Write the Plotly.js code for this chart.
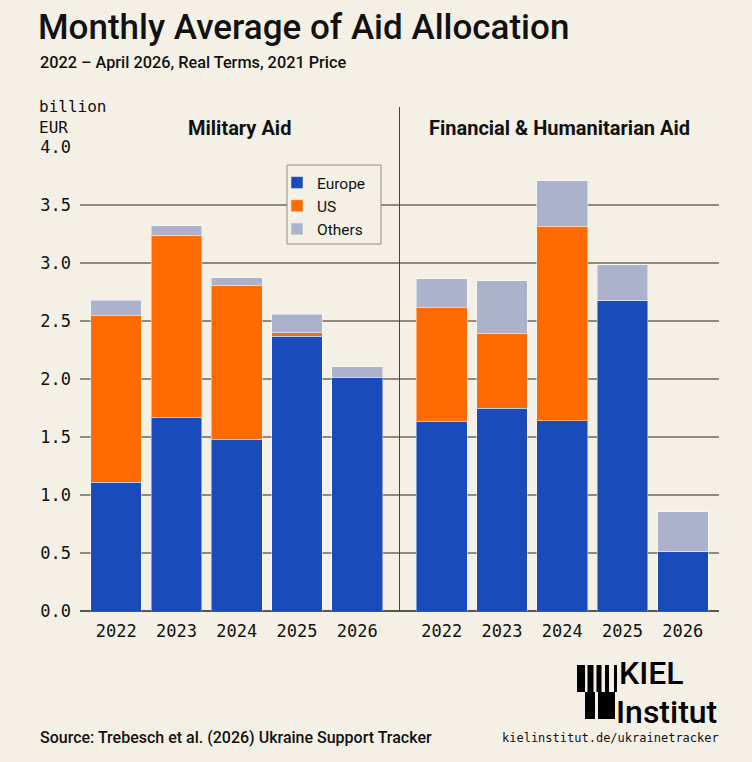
<!DOCTYPE html>
<html>
<head>
<meta charset="utf-8">
<script src="https://cdn.plot.ly/plotly-3.0.1.min.js"></script>
<style>
  html, body { margin: 0; padding: 0; background: #f4f0e6; }
  #chart { width: 752px; height: 762px; }
</style>
</head>
<body>
<div id="chart"></div>
<script>
// ---- Data (billion EUR, monthly average, real terms 2021 prices) ----
const years = ["2022", "2023", "2024", "2025", "2026"];
const panels = ["Military Aid", "Financial & Humanitarian Aid"];

const militaryEurope = [1.11, 1.67, 1.48, 2.37, 2.01];
const militaryUS     = [1.435, 1.57, 1.33, 0.03, 0.0];
const militaryOthers = [0.135, 0.08, 0.065, 0.16, 0.095];

const financialEurope = [1.63, 1.75, 1.64, 2.68, 0.515];
const financialUS     = [0.985, 0.645, 1.675, 0.0, 0.0];
const financialOthers = [0.25, 0.45, 0.395, 0.305, 0.34];

const seriesNames = ["Europe", "US", "Others"];
const seriesColors = ["#1a4bbb", "#ff6b00", "#adb2cc"];

const yTickVals = [0, 0.5, 1, 1.5, 2, 2.5, 3, 3.5, 4];

// ---- Layout helpers ----
const W = 752, H = 762;
const L = 80, R = 719, T = 147, B = 611;
const px = x => (x - L) / (R - L);
const py = y => (B - y) / (B - T);

const panelGap = 1.4;  // slot spacing between the two panels
const xMil = years.map((_, i) => i);
const xFin = years.map((_, i) => years.length - 1 + panelGap + i);
const xAll = xMil.concat(xFin);

const seriesData = [
  militaryEurope.concat(financialEurope),
  militaryUS.concat(financialUS),
  militaryOthers.concat(financialOthers)
];

const traces = seriesNames.map((name, k) => ({
  type: "bar",
  name: name,
  x: xAll,
  y: seriesData[k],
  width: 0.84,
  marker: { color: seriesColors[k], line: { color: "rgba(255,255,255,0.45)", width: 1 } },
  hoverinfo: "name+y"
}));

const mono = "DejaVu Sans Mono, Liberation Mono, monospace";
const sans = "Roboto, Inter, Noto Sans, sans-serif";
const logoFont = "Roboto, sans-serif";

const shapes = [
  // divider
  { type: "line", xref: "paper", yref: "paper", x0: 0.5, x1: 0.5, y0: 0, y1: py(107),
    line: { color: "#444", width: 1 } },
  // legend box
  { type: "rect", xref: "paper", yref: "paper", x0: px(287), x1: px(381), y0: py(244), y1: py(165),
    fillcolor: "#f4f0e6", line: { color: "#8f8b80", width: 1 }, layer: "above" },
  // logo blocks (top row)
  ...[[577, 585], [587.5, 593.5], [596.5, 601.5], [605, 609], [614, 617]].map(([a, b]) => ({
    type: "rect", xref: "paper", yref: "paper", x0: px(a), x1: px(b), y0: py(692), y1: py(665),
    fillcolor: "#000", line: { width: 0 } })),
  // logo blocks (bottom row)
  ...[[585, 595], [598, 615]].map(([a, b]) => ({
    type: "rect", xref: "paper", yref: "paper", x0: px(a), x1: px(b), y0: py(719), y1: py(692),
    fillcolor: "#000", line: { width: 0 } }))
];

const annotations = [
  { text: "2022 – April 2026, Real Terms, 2021 Price", xref: "paper", yref: "paper",
    x: px(38), y: py(62), xanchor: "left", yanchor: "middle", showarrow: false,
    font: { family: sans, size: 16.3, color: "#111", weight: 500 } },
  { text: "billion<br>EUR", xref: "paper", yref: "paper", x: px(37), y: py(117),
    xanchor: "left", yanchor: "middle", align: "left", showarrow: false,
    font: { family: mono, size: 16, color: "#111" } },
  { text: panels[0], xref: "x", yref: "paper", x: (xMil[0] + xMil[4]) / 2 + 0.05, y: py(128),
    xanchor: "center", yanchor: "middle", showarrow: false,
    font: { family: sans, size: 20, color: "#111", weight: 700 } },
  { text: panels[1], xref: "x", yref: "paper", x: (xFin[0] + xFin[4]) / 2 - 0.05, y: py(128),
    xanchor: "center", yanchor: "middle", showarrow: false,
    font: { family: sans, size: 20, color: "#111", weight: 700 } },
  { text: "Source: Trebesch et al. (2026) Ukraine Support Tracker", xref: "paper", yref: "paper",
    x: px(38), y: py(737), xanchor: "left", yanchor: "middle", showarrow: false,
    font: { family: sans, size: 16, color: "#111", weight: 500 } },
  { text: "kielinstitut.de/ukrainetracker", xref: "paper", yref: "paper",
    x: px(721), y: py(738), xanchor: "right", yanchor: "middle", showarrow: false,
    font: { family: mono, size: 12, color: "#111" } },
  { text: "KIEL", xref: "paper", yref: "paper", x: px(618), y: py(693), xanchor: "left",
    yanchor: "bottom", showarrow: false, borderpad: 0,
    font: { family: logoFont, size: 32, color: "#000", weight: 500 } },
  { text: "Institut", xref: "paper", yref: "paper", x: px(615), y: py(692), xanchor: "left",
    yanchor: "top", showarrow: false, borderpad: 0,
    font: { family: logoFont, size: 32, color: "#000", weight: 500 } }
];

const layout = {
  width: W, height: H,
  paper_bgcolor: "#f4f0e6", plot_bgcolor: "#f4f0e6",
  margin: { l: L, r: W - R, t: T, b: H - B, pad: 0 },
  barmode: "stack",
  bargap: 0,
  title: { text: "Monthly Average of Aid Allocation", xref: "container", yref: "container",
    x: 38 / W, y: 1 - 27 / H, xanchor: "left", yanchor: "middle",
    font: { family: sans, size: 35, color: "#111", weight: 500 } },
  xaxis: {
    range: [-0.6, xFin[4] + 0.6],
    tickvals: xAll, ticktext: years.concat(years),
    showgrid: false, zeroline: false, showline: false, ticks: "",
    ticklabelstandoff: 8,
    tickfont: { family: mono, size: 17, color: "#111" },
    fixedrange: true
  },
  yaxis: {
    range: [0, 4], tickvals: yTickVals, tickformat: ".1f",
    showgrid: true, gridcolor: "#8f8b80", gridwidth: 1.5,
    zeroline: true, zerolinecolor: "#555", zerolinewidth: 2,
    ticks: "", ticklabelstandoff: 8,
    tickfont: { family: mono, size: 17, color: "#111" },
    fixedrange: true
  },
  legend: {
    x: px(277), y: py(166), xanchor: "left", yanchor: "top",
    bgcolor: "rgba(0,0,0,0)", borderwidth: 0,
    traceorder: "normal",
    font: { family: sans, size: 15.5, color: "#111" }
  },
  shapes: shapes,
  annotations: annotations,
  showlegend: true
};

Plotly.newPlot("chart", traces, layout, { displayModeBar: false, staticPlot: true });
</script>
</body>
</html>
